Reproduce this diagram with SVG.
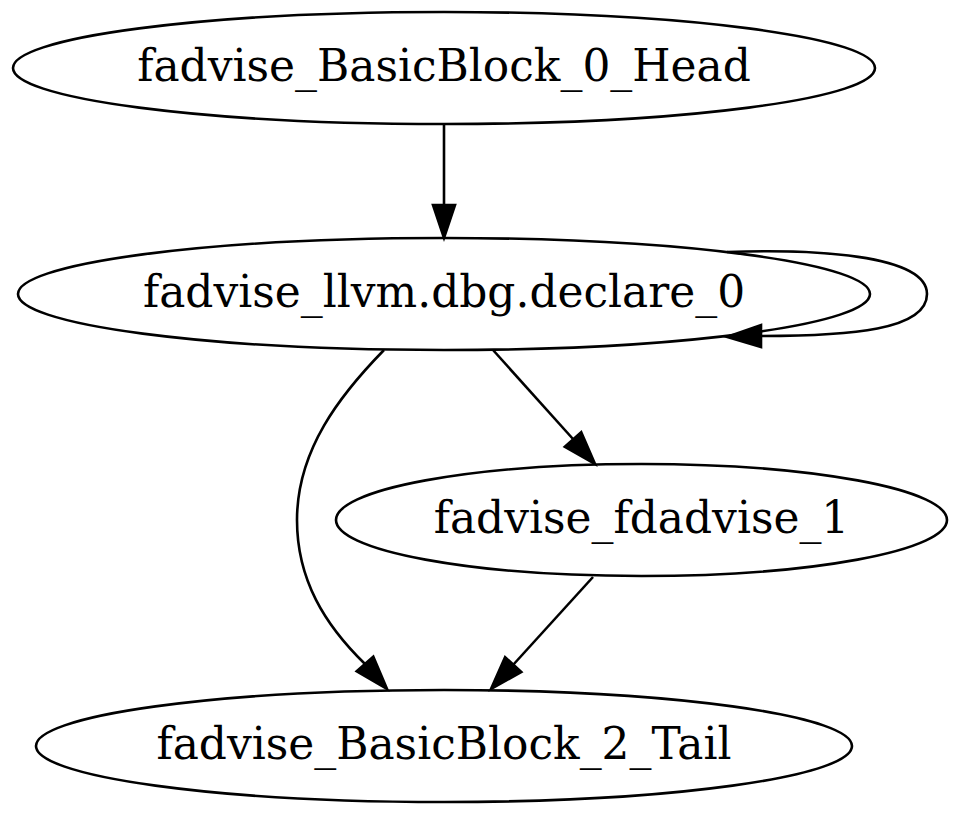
<svg xmlns="http://www.w3.org/2000/svg" width="960" height="815" viewBox="0 0 960 815">
<style>
.node ellipse{fill:none;stroke:#000;stroke-width:2.6}
.node text{font-family:"DejaVu Serif",serif;font-size:43.9px;text-anchor:middle;fill:#000}
.edge path{fill:none;stroke:#000;stroke-width:2.6}
.edge polygon{fill:#000;stroke:#000;stroke-width:2.6}
</style>
<rect width="960" height="815" fill="#fff"/>
<g id="edges">
<g class="edge" id="e_head_declare"><path d="M444,124 L444,205"/><polygon points="433,205 455,205 444,238"/></g>
<g class="edge" id="e_declare_self"><path d="M727,252 C810,249 927,254 927,294 C927,330 850,336 761,336"/><polygon points="761,325 761,347 727,337"/></g>
<g class="edge" id="e_declare_fdadvise"><path d="M493,350 L573,439"/><polygon points="581.2,432.1 564.8,446.7 595,464"/></g>
<g class="edge" id="e_declare_tail"><path d="M384,350 C340,395 297,450 297,520 C297,580 325,625 365,664"/><polygon points="356.7,671.3 373.3,656.7 387,689"/></g>
<g class="edge" id="e_fdadvise_tail"><path d="M593,577 L513,665"/><polygon points="521.3,672 505.1,657.2 491,689"/></g>
</g>
<g class="node" id="n_head"><ellipse cx="444" cy="68" rx="431" ry="56"/><text x="444" y="81">fadvise_BasicBlock_0_Head</text></g>
<g class="node" id="n_declare"><ellipse cx="444" cy="294" rx="426" ry="56"/><text x="444" y="307">fadvise_llvm.dbg.declare_0</text></g>
<g class="node" id="n_fdadvise"><ellipse cx="641.5" cy="520" rx="305.5" ry="56"/><text x="641.5" y="533">fadvise_fdadvise_1</text></g>
<g class="node" id="n_tail"><ellipse cx="444" cy="746" rx="408" ry="56"/><text x="444" y="759">fadvise_BasicBlock_2_Tail</text></g>
</svg>
